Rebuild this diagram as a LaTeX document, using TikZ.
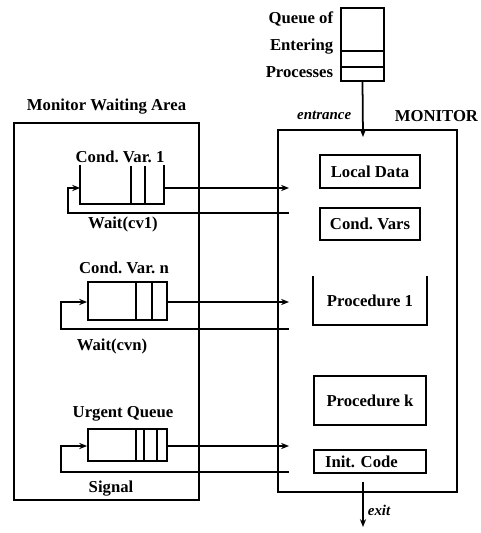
\documentclass[tikz,border=0pt]{standalone}
\usepackage{fontspec}
\setmainfont{Liberation Serif}
\usetikzlibrary{arrows.meta,positioning,calc}
\frenchspacing
\tikzset{
  lbl/.style={font=\fontsize{9.5}{11}\selectfont\bfseries,inner sep=0pt},
  tag/.style={font=\fontsize{8.5}{10}\selectfont\bfseries\itshape,inner sep=0pt},
  part/.style={draw,line width=1pt,inner sep=0pt,
               font=\fontsize{9.5}{11}\selectfont\bfseries},
  area/.style={draw,line width=1pt,inner sep=0pt},
  qbox/.style={inner sep=0pt},
  wire/.style={line width=1pt},
  feed/.style={wire,-{Stealth[length=4.5pt,width=3.5pt]}},
}

\begin{document}
\begin{tikzpicture}[x=0.02cm,y=-0.02cm,line width=1pt]
  \useasboundingbox (0,0) rectangle (480,533);

  % the two big boxes
  \node[area,minimum width=3.7cm,minimum height=7.54cm] (wait) at (106.5,311.5) {};
  \node[lbl,above=0.14cm of wait] (waitlbl) {Monitor Waiting Area};
  \node[area,minimum width=3.58cm,minimum height=7.24cm] (mon) at (367.5,311) {};
  \node[lbl,anchor=base west] (monlbl) at (394,122) {MONITOR};

  % queue of entering processes
  \node[area,minimum width=0.86cm,minimum height=1.46cm] (entq) at (362.5,44.5) {};
  \foreach \by in {51,67} \draw (341,\by) -- (384,\by);
  \node[lbl,align=right,anchor=east,font=\fontsize{9.5}{15.3}\selectfont\bfseries]
    (entlbl) at (334,45) {Queue of\\Entering\\Processes};
  \coordinate (entin) at (363,137);
  \draw[feed] (entq.south) -- (entin);
  \node[tag,anchor=east] (entrlbl) at (352,115) {entrance};

  % monitor contents
  \node[part,minimum width=2cm,minimum height=0.66cm] (locd) at (370,171.5) {Local Data};
  \node[part,minimum width=2cm,minimum height=0.64cm] (cvars) at (370,224) {Cond. Vars};
  \node[qbox,minimum width=2.24cm,minimum height=0.94cm,
        font=\fontsize{9.5}{11}\selectfont\bfseries] (proc1) at (370,300.5) {Procedure 1};
  \draw (proc1.north west) |- (proc1.south east) -- (proc1.north east);
  \node[part,minimum width=2.24cm,minimum height=0.98cm] (prock) at (370,400.5) {Procedure k};
  \node[part,minimum width=2.24cm,minimum height=0.46cm,inner xsep=0.22cm,
        text width=1.8cm,align=left] (init) at (370,461.5) {Init. Code};
  \coordinate (exitst) at (363,482);
  \coordinate (exitout) at (363,527);
  \draw[feed] (exitst) -- (exitout);
  \node[tag,anchor=west] (exitlbl) at (367,510) {exit};

  % condition variable 1
  \node[lbl] (cv1lbl) at (120,157) {Cond. Var. 1};
  \node[qbox,minimum width=1.64cm,minimum height=0.74cm] (q1) at (122,184.5) {};
  \draw (q1.north west) |- (q1.south east) -- (q1.north east);
  \foreach \bx in {131,145} \draw (\bx,166) -- (\bx,203);
  \coordinate (in1) at (289,188);
  \coordinate (ret1) at (289,213);
  \coordinate (turn1) at (68,188);
  \draw[feed] (q1.east |- in1) -- (in1);
  \draw[feed] (ret1) -| (turn1) -- (q1.west |- in1);
  \node[lbl] (wait1) at (123,224) {Wait(cv1)};

  % condition variable n
  \node[lbl] (cvnlbl) at (124,268) {Cond. Var. n};
  \node[area,minimum width=1.58cm,minimum height=0.76cm] (qn) at (127.5,301) {};
  \foreach \bx in {136,152} \draw (\bx,282) -- (\bx,320);
  \coordinate (inn) at (289,302);
  \coordinate (retn) at (289,329);
  \coordinate (turnn) at (61,302);
  \draw[feed] (qn.east |- inn) -- (inn);
  \draw[feed] (retn) -| (turnn) -- (qn.west |- inn);
  \node[lbl] (waitn) at (112,346) {Wait(cvn)};

  % urgent queue
  \node[lbl] (urglbl) at (123,414) {Urgent Queue};
  \node[area,minimum width=1.58cm,minimum height=0.64cm] (qu) at (127.5,445) {};
  \foreach \bx in {136,144,157} \draw (\bx,429) -- (\bx,461);
  \coordinate (inu) at (289,446);
  \coordinate (retu) at (289,472);
  \coordinate (turnu) at (61,446);
  \draw[feed] (qu.east |- inu) -- (inu);
  \draw[feed] (retu) -| (turnu) -- (qu.west |- inu);
  \node[lbl] (siglbl) at (111,489) {Signal};
\end{tikzpicture}
\end{document}
